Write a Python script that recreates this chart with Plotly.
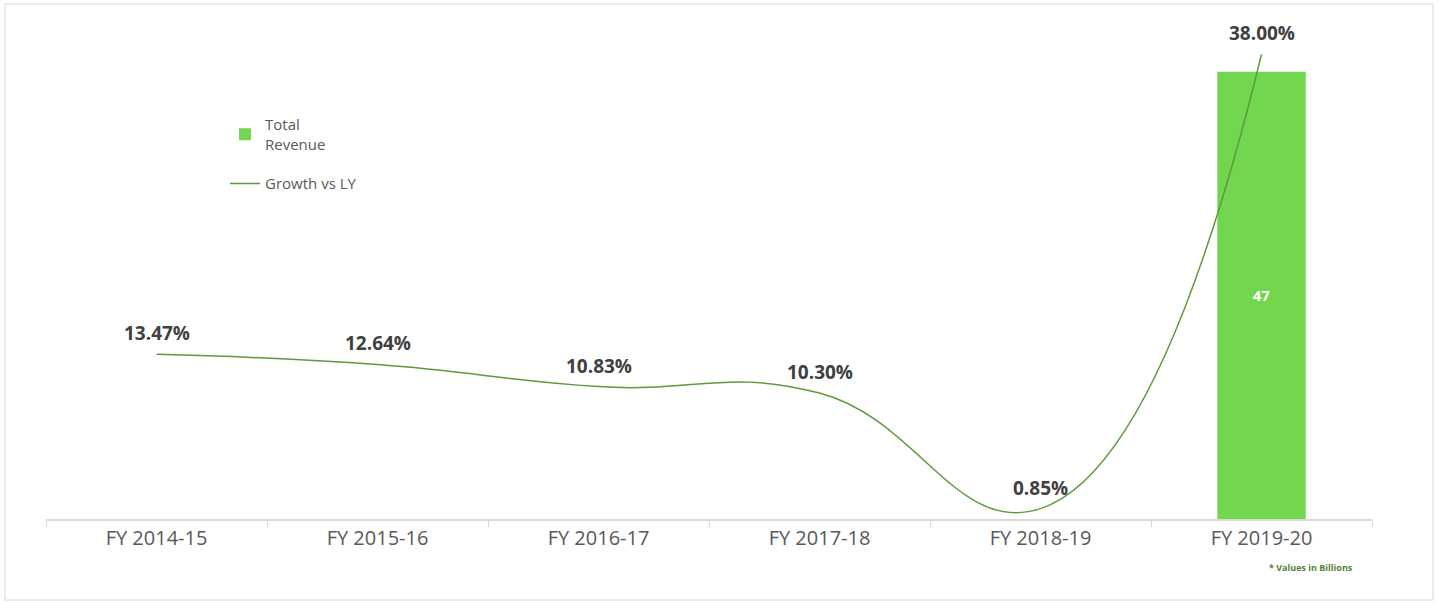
import plotly.graph_objects as go

categories = ["FY 2014-15", "FY 2015-16", "FY 2016-17", "FY 2017-18", "FY 2018-19", "FY 2019-20"]
revenue = [None, None, None, None, None, 47]
growth = [13.47, 12.64, 10.83, 10.30, 0.85, 38.00]
growth_labels = [f"{g:.2f}%" for g in growth]
revenue_labels = ["" if v is None else str(v) for v in revenue]

FONT = "Open Sans"

fig = go.Figure()
fig.add_trace(go.Bar(
    x=categories, y=revenue, name="Total<br>Revenue",
    marker=dict(color="#72D64E", line=dict(width=0)),
    width=0.4, legendgroup="rev",
    text=revenue_labels, textposition="inside", insidetextanchor="middle",
    textangle=0, constraintext="none",
    texttemplate="<b>%{text}</b>",
    textfont=dict(color="white", size=15, family=FONT),
    yaxis="y",
))
fig.add_trace(go.Scatter(
    x=categories, y=growth, name="Growth vs LY",
    mode="lines", legendgroup="gr",
    line=dict(color="#5E9A3E", width=1.5, shape="spline", smoothing=1.3),
    yaxis="y2",
))

annotations = [
    dict(x=c, y=g, xref="x", yref="y2", text=f"<b>{lab}</b>", showarrow=False,
         xanchor="center", yanchor="middle", yshift=21,
         font=dict(size=19, color="#404040", family=FONT))
    for c, g, lab in zip(categories, growth, growth_labels)
]
annotations.append(dict(text="<b>* Values in Billions</b>", xref="paper", yref="paper",
                        x=0.954, y=-0.10, xanchor="center", yanchor="middle",
                        showarrow=False, font=dict(size=9, color="#548235", family=FONT)))

fig.update_layout(
    width=1439, height=603,
    margin=dict(l=46, r=67, t=30, b=84),
    paper_bgcolor="white", plot_bgcolor="white",
    font=dict(family=FONT, color="#595959"),
    showlegend=True,
    legend=dict(x=0.135, y=0.84, xanchor="left", yanchor="top",
                bgcolor="rgba(0,0,0,0)", font=dict(size=15, color="#595959"),
                traceorder="grouped", tracegroupgap=17),
    xaxis=dict(
        type="category", showgrid=False, zeroline=False,
        showline=True, linecolor="#D9D9D9", linewidth=1.5,
        ticks="outside", tickson="boundaries", ticklen=6, tickcolor="#D9D9D9",
        tickfont=dict(size=20, color="#595959", family=FONT),
    ),
    yaxis=dict(range=[0, 51.4], visible=False, showgrid=False),
    yaxis2=dict(range=[0, 40], overlaying="y", visible=False, showgrid=False),
    bargap=0.6,
    shapes=[dict(type="rect", xref="paper", yref="paper",
                 x0=-0.0309, x1=1.046, y0=-0.1656, y1=1.053,
                 line=dict(color="#E6E6E6", width=1.5), fillcolor="rgba(0,0,0,0)")],
    annotations=annotations,
)

fig.write_html("out.html", config={"displayModeBar": False},
               post_script="document.body.style.margin='0';")
